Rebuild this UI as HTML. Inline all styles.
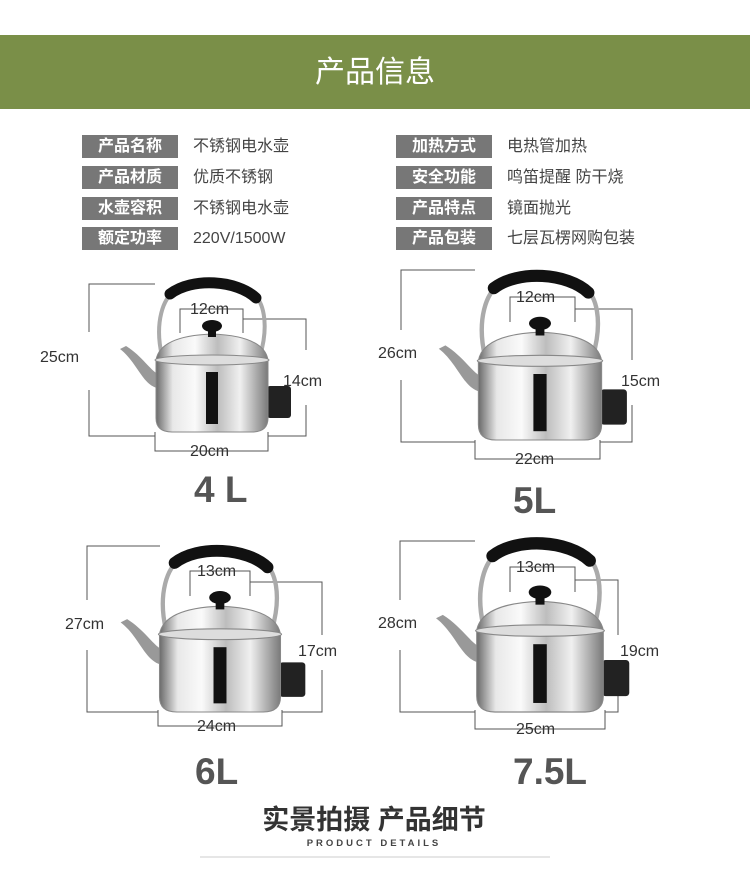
<!DOCTYPE html>
<html><head><meta charset="utf-8"><style>
body{margin:0;width:750px;height:894px;background:#fff;position:relative;overflow:hidden;font-family:"Liberation Sans","Noto Sans CJK SC",sans-serif}
.band{position:absolute;left:0;top:35px;width:750px;height:74px;background:#7a8f48;color:#fff;font-size:30px;text-align:center;line-height:76px}
.lb{position:absolute;width:96px;height:23px;background:#777;color:#fff;font-size:16px;font-weight:bold;text-align:center;line-height:23px}
.v{position:absolute;font-size:16px;color:#444;line-height:23px}
svg{position:absolute;left:0;top:0}
</style></head><body>
<div class="band">产品信息</div>
<div class="lb" style="left:82px;top:135px">产品名称</div><div class="v" style="left:193px;top:135px">不锈钢电水壶</div>
<div class="lb" style="left:82px;top:166px">产品材质</div><div class="v" style="left:193px;top:166px">优质不锈钢</div>
<div class="lb" style="left:82px;top:197px">水壶容积</div><div class="v" style="left:193px;top:197px">不锈钢电水壶</div>
<div class="lb" style="left:82px;top:227px">额定功率</div><div class="v" style="left:193px;top:227px">220V/1500W</div>
<div class="lb" style="left:396px;top:135px">加热方式</div><div class="v" style="left:507px;top:135px">电热管加热</div>
<div class="lb" style="left:396px;top:166px">安全功能</div><div class="v" style="left:507px;top:166px">鸣笛提醒 防干烧</div>
<div class="lb" style="left:396px;top:197px">产品特点</div><div class="v" style="left:507px;top:197px">镜面抛光</div>
<div class="lb" style="left:396px;top:227px">产品包装</div><div class="v" style="left:507px;top:227px">七层瓦楞网购包装</div>
<svg width="750" height="894" viewBox="0 0 750 894">
<defs>
<linearGradient id="bd" x1="0" x2="1"><stop offset="0" stop-color="#6a6a6a"/><stop offset=".15" stop-color="#e8e8e8"/><stop offset=".35" stop-color="#fafafa"/><stop offset=".55" stop-color="#bdbdbd"/><stop offset=".75" stop-color="#f0f0f0"/><stop offset="1" stop-color="#7a7a7a"/></linearGradient>
<g id="k">
<path d="M-50,-76 C-58,-110 -48,-135 -38,-140 M48,-76 C58,-110 50,-132 42,-137" stroke="#aaa" stroke-width="4" fill="none"/>
<path d="M-42,-138 C-20,-155 25,-152 44,-134" stroke="#111" stroke-width="11" fill="none" stroke-linecap="round"/>
<path d="M-55,-44 C-70,-48 -75,-70 -92,-83 L-86,-86 C-70,-76 -62,-62 -54,-58 Z" fill="#999"/>
<rect x="55" y="-46" width="24" height="32" rx="3" fill="#222"/>
<path d="M-56,-72 L56,-72 L56,-14 Q56,0 40,0 L-40,0 Q-56,0 -56,-14 Z" fill="url(#bd)" stroke="#888"/>
<path d="M-56,-72 Q-52,-96 0,-98 Q52,-96 56,-72 Z" fill="url(#bd)" stroke="#888"/>
<ellipse cx="0" cy="-72" rx="57" ry="5" fill="#ddd" stroke="#888"/>
<rect x="-6" y="-60" width="12" height="52" fill="#111"/>
<rect x="-4" y="-103" width="8" height="8" fill="#111"/>
<ellipse cx="0" cy="-106" rx="10" ry="6" fill="#111"/>
</g>
</defs>
<g stroke="#555" stroke-width="1" fill="none">
<path d="M89,332 V284 H155 M89,390 V436 H155 M180,333 V309 H243 V333 M243,319 H306 V350 M306,405 V436 H268 M155,432 V451 H268 V432"/>
<path d="M401,330 V270 H475 M401,380 V442 H475 M510,322 V297 H575 V322 M575,309 H632 V360 M632,405 V442 H600 M475,440 V459 H600 V440"/>
<path d="M87,600 V546 H160 M87,650 V712 H158 M190,596 V571 H250 V596 M250,582 H322 V635 M322,670 V712 H282 M158,710 V726 H282 V710"/>
<path d="M400,600 V541 H475 M400,650 V712 H475 M510,592 V567 H575 V592 M575,580 H618 V635 M618,670 V712 H605 M475,710 V729 H605 V710"/>
</g>
<use href="#k" transform="translate(212,432)"/>
<use href="#k" transform="translate(540,440) scale(1.1)"/>
<use href="#k" transform="translate(220,712) scale(1.08)"/>
<use href="#k" transform="translate(540,712) scale(1.13)"/>
<g font-family="Liberation Sans" font-size="16" fill="#333">
<text x="40" y="362">25cm</text><text x="190" y="314">12cm</text><text x="283" y="386">14cm</text><text x="190" y="456">20cm</text>
<text x="378" y="358">26cm</text><text x="516" y="302">12cm</text><text x="621" y="386">15cm</text><text x="515" y="464">22cm</text>
<text x="65" y="629">27cm</text><text x="197" y="576">13cm</text><text x="298" y="656">17cm</text><text x="197" y="731">24cm</text>
<text x="378" y="628">28cm</text><text x="516" y="572">13cm</text><text x="620" y="656">19cm</text><text x="516" y="734">25cm</text>
</g>
<g font-family="Liberation Sans" font-weight="bold" font-size="37" fill="#555">
<text x="194" y="502">4 L</text><text x="513" y="513">5L</text><text x="195" y="784">6L</text><text x="513" y="784">7.5L</text>
</g>
<text x="374" y="829" text-anchor="middle" font-family="Liberation Sans,Noto Sans CJK SC,sans-serif" font-size="27" font-weight="bold" fill="#333">实景拍摄 产品细节</text>
<text x="374" y="846" text-anchor="middle" font-family="Liberation Sans" font-size="9.5" font-weight="bold" letter-spacing="3" fill="#444">PRODUCT DETAILS</text>
<line x1="200" y1="857" x2="550" y2="857" stroke="#ccc"/>
</svg>
</body></html>
